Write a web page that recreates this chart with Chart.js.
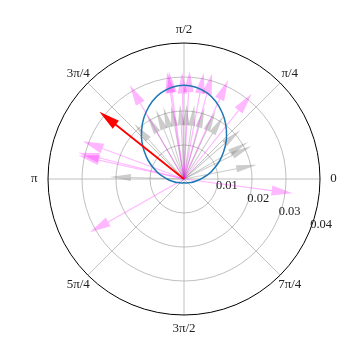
<!DOCTYPE html>
<html>
<head>
<meta charset="utf-8">
<script src="https://cdn.jsdelivr.net/npm/chart.js@4"></script>
<style>
  html, body { margin: 0; padding: 0; background: #fff; }
  #wrap { width: 360px; height: 360px; }
</style>
</head>
<body>
<div id="wrap"><canvas id="chart"></canvas></div>
<script>
// --- polar axes ---
const R_MAX = 0.04;
const radialTicks = [0.01, 0.02, 0.03, 0.04];
const angleTicks = [0, 45, 90, 135, 180, 225, 270, 315];
const angleLabels = ['0', 'π/4', 'π/2', '3π/4', 'π', '5π/4', '3π/2', '7π/4'];
const radialLabelAngle = -22.5;

// --- arrows (angle in degrees, length in r units) ---
const grayAngles  = [11, 26, 30, 41, 58, 65, 74, 82, 88, 93, 100, 106, 112, 120, 132, 178.5];
const grayLengths = [0.0219, 0.0221, 0.0218, 0.022, 0.022, 0.022, 0.022, 0.022, 0.022, 0.022, 0.022, 0.022, 0.022, 0.022, 0.0219, 0.0218];

const pinkAngles  = [352.5, 51.5, 66, 75, 79.5, 87, 91, 98, 99, 120, 159.5, 166, 167.5, 209.5];
const pinkLengths = [0.0322, 0.032, 0.0319, 0.0321, 0.0318, 0.0318, 0.0313, 0.0319, 0.0318, 0.0319, 0.0318, 0.032, 0.0318, 0.0318];

const redAngles  = [141.5];
const redLengths = [0.0318];

// --- blue curve ---
const curveAngles = [0, 15, 30, 45, 60, 75, 90, 105, 120, 135, 150, 165, 180,
                     195, 210, 225, 240, 255, 270, 285, 300, 315, 330, 345, 360];
const curveRadii  = [0.0050, 0.0083, 0.0127, 0.0177, 0.0225, 0.0262, 0.0276, 0.0262, 0.0225, 0.0177, 0.0127, 0.0083, 0.0050,
                     0.0031, 0.0021, 0.0016, 0.0014, 0.0012, 0.0011, 0.0012, 0.0014, 0.0016, 0.0021, 0.0031, 0.0050];

function toXY(angles, radii) {
    return angles.map((a, i) => {
        const t = a * Math.PI / 180;
        return { x: radii[i] * Math.cos(t), y: radii[i] * Math.sin(t) };
    });
}

const ANGLE_FONT = '13px "Liberation Serif", "DejaVu Serif", serif';
const RADIAL_FONT = '12.5px "Liberation Serif", "DejaVu Serif", serif';

const polarGrid = {
    id: 'polarGrid',
    beforeDatasetsDraw(chart) {
        const ctx = chart.ctx;
        const xs = chart.scales.x, ys = chart.scales.y;
        const cx = xs.getPixelForValue(0), cy = ys.getPixelForValue(0);
        const rpx = r => xs.getPixelForValue(r) - cx;
        ctx.save();
        // spokes
        ctx.strokeStyle = '#b0b0b0';
        ctx.lineWidth = 0.8;
        angleTicks.forEach(a => {
            const t = a * Math.PI / 180;
            ctx.beginPath();
            ctx.moveTo(cx, cy);
            ctx.lineTo(cx + rpx(R_MAX) * Math.cos(t), cy - rpx(R_MAX) * Math.sin(t));
            ctx.stroke();
        });
        // rings
        radialTicks.forEach(r => {
            ctx.beginPath();
            ctx.arc(cx, cy, rpx(r), 0, Math.PI * 2);
            if (r >= R_MAX) {
                ctx.strokeStyle = '#000';
                ctx.lineWidth = 1;
            } else {
                ctx.strokeStyle = '#b0b0b0';
                ctx.lineWidth = 0.8;
            }
            ctx.stroke();
        });
        // angle labels
        ctx.fillStyle = '#222';
        ctx.font = ANGLE_FONT;
        ctx.textAlign = 'center';
        ctx.textBaseline = 'middle';
        angleTicks.forEach((a, i) => {
            const t = a * Math.PI / 180;
            const rr = rpx(R_MAX) * 1.1;
            ctx.fillText(angleLabels[i], cx + rr * Math.cos(t), cy - rr * Math.sin(t));
        });
        // radial labels
        ctx.font = RADIAL_FONT;
        ctx.textAlign = 'left';
        ctx.textBaseline = 'bottom';
        const tl = radialLabelAngle * Math.PI / 180;
        radialTicks.forEach(r => {
            const px = cx + rpx(r) * Math.cos(tl);
            const py = cy - rpx(r) * Math.sin(tl);
            ctx.fillText(r.toFixed(2), px + 0.5, py - 0.5);
        });
        ctx.restore();
    }
};

// draws quiver-style arrows from the origin to each point of a dataset
const quiver = {
    id: 'quiver',
    afterDatasetDraw(chart, args) {
        const ds = chart.data.datasets[args.index];
        if (!ds.arrow) return;
        const ctx = chart.ctx;
        const cx = chart.scales.x.getPixelForValue(0);
        const cy = chart.scales.y.getPixelForValue(0);
        const st = ds.arrow;
        ctx.save();
        ctx.fillStyle = st.fill;
        args.meta.data.forEach(el => {
            const dx = el.x - cx, dy = el.y - cy;
            const len = Math.hypot(dx, dy);
            const ux = dx / len, uy = dy / len;
            const nx = -uy, ny = ux;
            const hl = Math.min(st.headL, len);
            const kx = el.x - ux * hl, ky = el.y - uy * hl;
            const sw = st.shaftW / 2, hw = st.headW / 2;
            ctx.beginPath();
            ctx.moveTo(cx + nx * sw, cy + ny * sw);
            ctx.lineTo(kx + nx * sw, ky + ny * sw);
            ctx.lineTo(kx + nx * hw, ky + ny * hw);
            ctx.lineTo(el.x, el.y);
            ctx.lineTo(kx - nx * hw, ky - ny * hw);
            ctx.lineTo(kx - nx * sw, ky - ny * sw);
            ctx.lineTo(cx - nx * sw, cy - ny * sw);
            ctx.closePath();
            ctx.fill();
        });
        ctx.restore();
    }
};

new Chart(document.getElementById('chart'), {
    type: 'scatter',
    data: {
        datasets: [
            {
                label: 'gray',
                data: toXY(grayAngles, grayLengths),
                pointRadius: 0,
                order: 4,
                arrow: { fill: 'rgba(128,128,128,0.4)', shaftW: 1, headW: 7, headL: 21 }
            },
            {
                label: 'pink',
                data: toXY(pinkAngles, pinkLengths),
                pointRadius: 0,
                order: 3,
                arrow: { fill: 'rgba(255,0,255,0.28)', shaftW: 1.2, headW: 10, headL: 21 }
            },
            {
                label: 'curve',
                data: toXY(curveAngles, curveRadii),
                showLine: true,
                borderColor: '#1f77b4',
                borderWidth: 1.5,
                pointRadius: 0,
                tension: 0.4,
                order: 2
            },
            {
                label: 'red',
                data: toXY(redAngles, redLengths),
                pointRadius: 0,
                order: 1,
                arrow: { fill: '#ff0000', shaftW: 1.8, headW: 10, headL: 21 }
            }
        ]
    },
    options: {
        responsive: true,
        maintainAspectRatio: false,
        animation: false,
        events: [],
        layout: { padding: { left: 48, right: 40, top: 43, bottom: 45 } },
        scales: {
            x: { type: 'linear', min: -R_MAX, max: R_MAX, display: false },
            y: { type: 'linear', min: -R_MAX, max: R_MAX, display: false }
        },
        plugins: {
            legend: { display: false },
            tooltip: { enabled: false }
        }
    },
    plugins: [polarGrid, quiver]
});
</script>
</body>
</html>
